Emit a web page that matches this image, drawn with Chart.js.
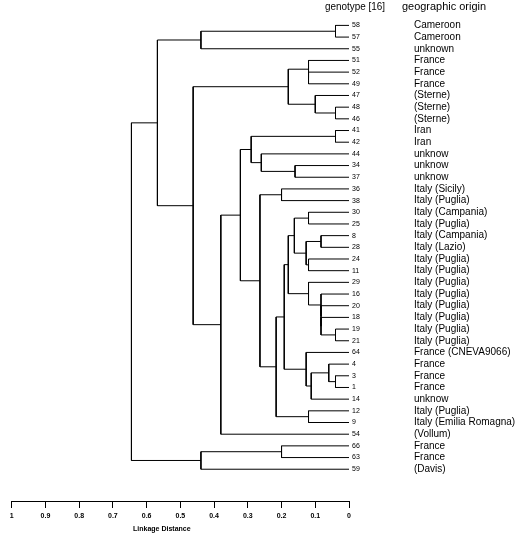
<!DOCTYPE html>
<html>
<head>
<meta charset="utf-8">
<script src="https://cdn.jsdelivr.net/npm/chart.js@4.4.1/dist/chart.umd.min.js"></script>
<style>
  html, body { margin: 0; padding: 0; background: #fff; }
</style>
</head>
<body>
<canvas id="tree" width="531" height="534"></canvas>
<script>
const genotypes = ["58", "57", "55", "51", "52", "49", "47", "48", "46", "41", "42", "44", "34", "37",
  "36", "38", "30", "25", "8", "28", "24", "11", "29", "16", "20", "18", "19", "21",
  "64", "4", "3", "1", "14", "12", "9", "54", "66", "63", "59"];
const origins = ["Cameroon", "Cameroon", "unknown", "France", "France", "France", "(Sterne)", "(Sterne)", "(Sterne)",
  "Iran", "Iran", "unknow", "unknow", "unknow", "Italy (Sicily)", "Italy (Puglia)", "Italy (Campania)",
  "Italy (Puglia)", "Italy (Campania)", "Italy (Lazio)", "Italy (Puglia)", "Italy (Puglia)", "Italy (Puglia)",
  "Italy (Puglia)", "Italy (Puglia)", "Italy (Puglia)", "Italy (Puglia)", "Italy (Puglia)", "France (CNEVA9066)",
  "France", "France", "France", "unknow", "Italy (Puglia)", "Italy (Emilia Romagna)", "(Vollum)",
  "France", "France", "(Davis)"];

// joins: leaves by genotype, earlier joins as "#k"
const mergeLeft = ["58", "#0", "52", "51", "48", "47", "#3", "41", "34", "44", "#7", "36", "30", "8", "24", "#13",
  "#12", "19", "18", "20", "16", "29", "#16", "3", "4", "#24", "64", "#22", "12", "#27", "#11", "#10", "#31",
  "#6", "#1", "66", "#35", "#34"];
const mergeRight = ["57", "55", "49", "#2", "46", "#4", "#5", "42", "37", "#8", "#9", "38", "25", "28", "11", "#14",
  "#15", "21", "#17", "#18", "#19", "#20", "#21", "1", "#23", "14", "#25", "#26", "9", "#28", "#29", "#30", "54",
  "#32", "#33", "63", "59", "#36"];
const mergeHeight = [0.04, 0.439, 0.12, 0.12, 0.04, 0.1, 0.18, 0.04, 0.16, 0.26, 0.29, 0.2, 0.12, 0.083, 0.12, 0.127,
  0.162, 0.04, 0.083, 0.083, 0.083, 0.12, 0.18, 0.04, 0.06, 0.112, 0.127, 0.192, 0.12, 0.216, 0.264, 0.322, 0.38,
  0.462, 0.568, 0.2, 0.439, 0.645];
const distanceTicks = [1, 0.9, 0.8, 0.7, 0.6, 0.5, 0.4, 0.3, 0.2, 0.1, 0];

const FONT = '"Liberation Sans", Arial, sans-serif';
const Y_MIN = -1, Y_MAX = 40.72;

const nodeX = {};
const nodeY = {};
genotypes.forEach((g, i) => { nodeX[g] = 0; nodeY[g] = i; });

const links = [];
mergeHeight.forEach((h, k) => {
  const a = mergeLeft[k], b = mergeRight[k];
  links.push({
    data: [
      { x: nodeX[a], y: nodeY[a] },
      { x: h, y: nodeY[a] },
      { x: h, y: nodeY[b] },
      { x: nodeX[b], y: nodeY[b] }
    ],
    showLine: true,
    borderColor: "#000",
    borderWidth: 1,
    pointRadius: 0,
    tension: 0,
    fill: false
  });
  nodeX["#" + k] = h;
  nodeY["#" + k] = (nodeY[a] + nodeY[b]) / 2;
});

const extraText = {
  id: "extraText",
  afterDraw(chart) {
    const ctx = chart.ctx;
    ctx.save();
    ctx.fillStyle = "#000";
    ctx.textBaseline = "middle";
    ctx.font = "11px " + FONT;
    ctx.fillText("genotype [16]", 325, 7, 60);
    ctx.fillText("geographic origin", 402, 7, 84);
    ctx.font = "bold 7px " + FONT;
    ctx.textAlign = "center";
    ctx.fillText("Linkage Distance", chart.scales.x.getPixelForValue(0.555), 529);
    ctx.restore();
  }
};

new Chart(document.getElementById("tree"), {
  type: "scatter",
  data: { datasets: links },
  plugins: [extraText],
  options: {
    responsive: false,
    animation: false,
    devicePixelRatio: 1,
    layout: { padding: { left: 11.7, top: 13.72, right: 0, bottom: 0 } },
    plugins: { legend: { display: false }, tooltip: { enabled: false } },
    scales: {
      x: {
        type: "linear",
        reverse: true,
        min: 0,
        max: 1,
        position: "bottom",
        afterBuildTicks: (axis) => { axis.ticks = distanceTicks.map((v) => ({ value: v })); },
        afterFit: (s) => { s.height = 33; },
        grid: { display: true, drawOnChartArea: false, drawTicks: true, tickLength: 7, color: "#000" },
        border: { display: true, color: "#000", width: 1 },
        ticks: {
          padding: 4,
          color: "#000",
          autoSkip: false,
          maxRotation: 0,
          font: { size: 7, weight: "bold", family: FONT },
          callback: (v) => String(+Number(v).toFixed(1))
        }
      },
      y: {
        type: "linear",
        reverse: true,
        min: Y_MIN,
        max: Y_MAX,
        display: false
      },
      yGen: {
        type: "linear",
        position: "right",
        reverse: true,
        min: Y_MIN,
        max: Y_MAX,
        weight: 1,
        afterBuildTicks: (axis) => { axis.ticks = genotypes.map((g, i) => ({ value: i })); },
        afterFit: (s) => { s.width = 60; },
        grid: { display: false, drawTicks: false },
        border: { display: false },
        ticks: {
          padding: 3,
          color: "#000",
          autoSkip: false,
          font: { size: 7, family: FONT },
          callback: (v) => genotypes[v]
        }
      },
      yOrigin: {
        type: "linear",
        position: "right",
        reverse: true,
        min: Y_MIN,
        max: Y_MAX,
        weight: 2,
        afterBuildTicks: (axis) => { axis.ticks = origins.map((o, i) => ({ value: i })); },
        afterFit: (s) => { s.width = 122; },
        grid: { display: false, drawTicks: false },
        border: { display: false },
        ticks: {
          padding: 5,
          color: "#000",
          autoSkip: false,
          font: { size: 10, family: FONT },
          callback: (v) => origins[v]
        }
      }
    }
  }
});
</script>
</body>
</html>
